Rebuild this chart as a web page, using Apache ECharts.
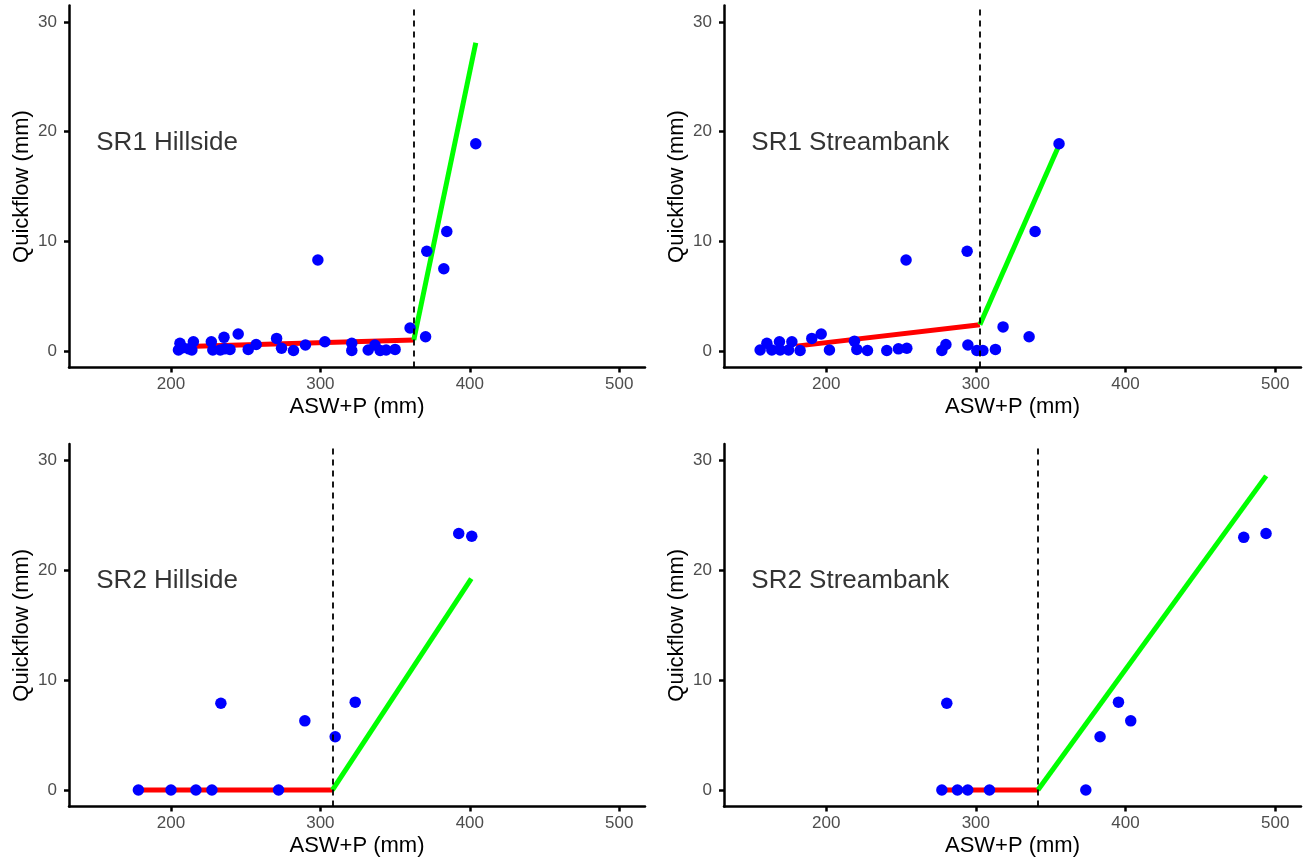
<!DOCTYPE html>
<html>
<head>
<meta charset="utf-8">
<script src="https://cdn.jsdelivr.net/npm/echarts@6/dist/echarts.min.js"></script>
<style>
html,body{margin:0;padding:0;background:#fff;}
#c{width:1311px;height:865px;}
</style>
</head>
<body>
<div id="c"></div>
<script>
// ---------- DATA ----------
const panelNames = ['SR1 Hillside', 'SR1 Streambank', 'SR2 Hillside', 'SR2 Streambank'];
const xTicks = [200, 300, 400, 500];
const yTicks = [0, 10, 20, 30];
const xTitle = 'ASW+P (mm)';
const yTitle = 'Quickflow (mm)';

// SR1 Hillside points
const sr1HillX = [206,205,208,215,214,212,227,228,235.5,233,239.5,236,245,251.7,257,270.7,274,282,290,298.3,303,321,321,332,336.5,340,344,350,360,370.4,371.2,382.6,384.6,404];
const sr1HillY = [0.7,0.1,0.3,0.85,0.1,0.2,0.85,0.1,1.25,0.1,0.15,0.2,1.55,0.15,0.6,1.15,0.25,0.05,0.55,8.3,0.85,0.7,0.05,0.1,0.55,0.05,0.1,0.15,2.1,1.3,9.1,7.5,10.9,18.9];
// SR1 Streambank points
const sr1StreamX = [155.9,160.4,163.7,168.8,169.3,177.1,174.9,182.6,190.4,196.7,202.2,218.9,220.5,227.6,240.5,248.3,253.9,253.4,277.3,280,294.2,294.7,300.7,304.7,313.1,318.2,335.6,339.6,355.6];
const sr1StreamY = [0.1,0.7,0.1,0.85,0.1,0.85,0.1,0.05,1.15,1.55,0.1,0.9,0.15,0.05,0.05,0.2,0.25,8.3,0.05,0.6,9.1,0.55,0.05,0.05,0.15,2.2,1.3,10.9,18.9];
// SR2 Hillside points
const sr2HillX = [178.2,200,216.7,227.4,233.4,272,289.6,309.9,323.3,392.6,401.3];
const sr2HillY = [0,0,0,0,7.9,0,6.3,4.85,8.0,23.35,23.1];
// SR2 Streambank points
const sr2StreamX = [277.3,280.6,287.7,294.6,309.1,373.5,383,395.3,403.5,479,493.9];
const sr2StreamY = [0,7.9,0,0,0,0,4.85,8.0,6.3,23.0,23.35];

// Segmented fits: [x0, y0, x1, y1]
const redFits = [
  [205, 0.4, 362.5, 1.0],
  [180, 0.45, 302.7, 2.4],
  [178, 0, 308, 0],
  [277, 0, 341.5, 0]
];
const greenFits = [
  [362.5, 1.0, 404, 28.1],
  [302.7, 2.4, 356, 18.9],
  [308, 0, 401, 19.25],
  [341.5, 0, 494, 28.6]
];
const breakpoints = [362.5, 302.7, 308, 341.5];
const labelPos = [150, 19];

// ---------- CHART ----------
const pointsX = [sr1HillX, sr1StreamX, sr2HillX, sr2StreamX];
const pointsY = [sr1HillY, sr1StreamY, sr2HillY, sr2StreamY];
const zip = (xs, ys) => xs.map((x, i) => [x, ys[i]]);

const FONT = '"Liberation Sans", Arial, Helvetica, sans-serif';
const grids = [
  {left: 69, top: 5.5, width: 576, height: 362},
  {left: 724, top: 5.5, width: 577, height: 362},
  {left: 69, top: 444, width: 576, height: 362.5},
  {left: 724, top: 444, width: 577, height: 362.5}
];

const xAxes = [], yAxes = [], series = [];
for (let i = 0; i < 4; i++) {
  xAxes.push({
    type: 'value', gridIndex: i, min: 131.75, max: 517.25,
    axisLine: {show: true, onZero: false, lineStyle: {color: '#000', width: 2.5}},
    axisTick: {show: true, length: 5, customValues: xTicks, lineStyle: {color: '#000', width: 2.5}},
    axisLabel: {customValues: xTicks, color: '#4d4d4d', fontSize: 17, margin: 8, fontFamily: FONT},
    splitLine: {show: false},
    name: xTitle, nameLocation: 'middle', nameGap: 28,
    nameTextStyle: {color: '#000', fontSize: 22, fontFamily: FONT}
  });
  yAxes.push({
    type: 'value', gridIndex: i, min: -1.5, max: 31.5,
    axisLine: {show: true, onZero: false, lineStyle: {color: '#000', width: 2.5}},
    axisTick: {show: true, length: 5, customValues: yTicks, lineStyle: {color: '#000', width: 2.5}},
    axisLabel: {customValues: yTicks, color: '#4d4d4d', fontSize: 17, margin: 12, fontFamily: FONT},
    splitLine: {show: false},
    name: yTitle, nameLocation: 'middle', nameGap: 36,
    nameTextStyle: {color: '#000', fontSize: 22, fontFamily: FONT}
  });
  const r = redFits[i], g = greenFits[i];
  series.push({
    type: 'line', xAxisIndex: i, yAxisIndex: i, z: 2,
    data: [[r[0], r[1]], [r[2], r[3]]], symbol: 'none',
    lineStyle: {color: '#ff0000', width: 5}, silent: true
  });
  series.push({
    type: 'line', xAxisIndex: i, yAxisIndex: i, z: 2,
    data: [[g[0], g[1]], [g[2], g[3]]], symbol: 'none',
    lineStyle: {color: '#00ff00', width: 5}, silent: true
  });
  series.push({
    type: 'scatter', xAxisIndex: i, yAxisIndex: i, z: 3,
    data: zip(pointsX[i], pointsY[i]), symbolSize: 11.5,
    itemStyle: {color: '#0000ff', opacity: 1},
    markLine: {
      silent: true, symbol: 'none', z: 4,
      label: {show: false},
      lineStyle: {color: '#000', width: 1.8, type: [6, 5]},
      data: [{xAxis: breakpoints[i]}]
    }
  });
  series.push({
    type: 'scatter', xAxisIndex: i, yAxisIndex: i, z: 5,
    data: [labelPos], symbolSize: 0, silent: true,
    label: {
      show: true, position: 'right', distance: 0,
      formatter: panelNames[i], color: '#000', fontSize: 26, fontFamily: FONT
    }
  });
}

const chart = echarts.init(document.getElementById('c'), null, {renderer: 'canvas'});
chart.setOption({
  animation: false,
  backgroundColor: '#fff',
  textStyle: {fontFamily: FONT},
  grid: grids,
  xAxis: xAxes,
  yAxis: yAxes,
  series: series
});
</script>
</body>
</html>
